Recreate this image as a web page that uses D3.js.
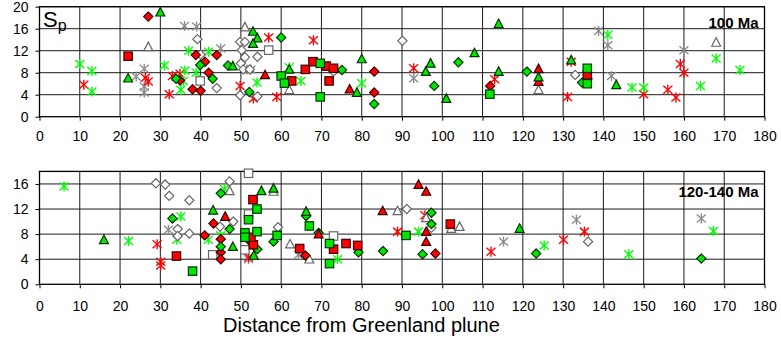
<!DOCTYPE html>
<html><head><meta charset="utf-8">
<script src="https://cdn.jsdelivr.net/npm/d3@7"></script>
<style>body{margin:0;background:#fff}svg{display:block}text{font-family:Arial,"Liberation Sans",sans-serif}</style>
</head><body><svg id="c" width="781" height="344"></svg>
<script>
// ---------- data (x = distance, y = Sp) ----------
const xTicks = [0,10,20,30,40,50,60,70,80,90,100,110,120,130,140,150,160,170,180];
const yTicksTop = [0,4,8,12,16,20];
const yTicksBottom = [0,4,8,12,16];
const panelLabels = ["100 Ma","120-140 Ma"];
const xTitle = "Distance from Greenland plune";

// top panel (100 Ma)
const top_redSquare = [[22,11],[62.6,6.5],[66,8.6],[67.9,10],[71.2,9.2],[73,8.8],[71.9,6.5],[136,7.6]];
const top_greenSquare = [[60,7.4],[60.8,6.1],[69.7,9.7],[69.7,3.6],[111.8,4.1],[136,8.8],[136,6.0]];
const top_whiteSquare = [[39.9,6.5],[56.9,12.1]];
const top_redTriangle = [[56,7.6],[77,5.0],[123.9,8.7],[123.9,6.4]];
const top_greenTriangle = [[22,7],[30,19],[48,9.2],[53,15.5],[54.1,14.3],[53,13.3],[62,8.6],[80,10.5],[78.8,4.4],[95.9,8.2],[97.1,9.7],[101,3.3],[108,11.6],[114,16.9],[114,8.2],[123.9,7.2],[132,10.3],[143.2,5.8]];
const top_whiteTriangle = [[27,12.7],[51,16.3],[62,4.9],[123.9,4.9],[168,13.5]];
const top_redDiamond = [[27,18.2],[38.8,11.2],[44,11.2],[41.1,10],[42,8],[34.9,6.6],[38,5],[40,4.7],[83.1,8.2],[83.1,4.4],[111.9,5.6]];
const top_greenDiamond = [[39.9,9.4],[46.8,9.3],[43,6.9],[33.9,6.9],[52.1,4.5],[60,14.4],[75.1,8.5],[83.1,2.3],[98,5.6],[104,9.9],[121,8.2],[134.7,6.2]];
const top_whiteDiamond = [[39.2,14.1],[40,11.3],[44,5.2],[49.8,13.6],[51,13.6],[50.2,12.1],[51,10.8],[54.1,10.9],[50,9.7],[50.6,8.6],[52.2,8.6],[49.8,3.9],[54.1,3.7],[62,6.5],[73,8.2],[90.1,13.8],[133,7.6],[136.1,6.9]];
const top_redAsterisk = [[11,5.8],[26.3,7.1],[27,6.4],[32.2,4.1],[33,7.4],[34.9,7.8],[49.8,5.6],[53.1,3.3],[56.9,14.4],[58.9,3.6],[68,13.9],[92.9,8.8],[113,6.8],[131.1,3.6],[132,10],[150,4.1],[156,4.9],[158,3.5],[159.1,9.6],[160,8.0]];
const top_greenAsterisk = [[10,9.6],[13,8.3],[13,4.6],[31,9.3],[37,12],[42,11.8],[36.1,8.4],[38.9,8],[35.7,6.5],[35.1,4.9],[54,6.2],[62,9],[64.9,6.5],[80,6.1],[141.1,14.9],[147.1,5.3],[150,5.3],[164.1,5.6],[168,10.6],[173.9,8.5]];
const top_grayAsterisk = [[24,7.3],[26,8.7],[26,5.5],[26,4.4],[36,16.5],[39,16.4],[45,12.4],[51.5,8.6],[52.5,8.6],[92.9,7.0],[138.8,15.6],[141.1,13],[142,7.4],[160,12.1]];

// bottom panel (120-140 Ma)
const bot_redSquare = [[34,4.5],[53,13.5],[53.1,6.3],[52.5,7.5],[64.6,5.7],[73,5.6],[76.1,6.5],[79,6.2],[102,9.6]];
const bot_greenSquare = [[38,2.1],[51,8.2],[51,7.5],[51.9,10.3],[54,12],[54,8.4],[59,7.8],[67,9.3],[72,6.5],[72,3.3],[91,7.8]];
const bot_whiteSquare = [[43,4.7],[51,5.5],[51.9,11.2],[51.9,17.7],[73,7.7]];
const bot_redTriangle = [[46.1,10.8],[69.3,8.0],[85.2,11.7],[94.1,15.9],[96,14.8],[96,8.4],[96,6.8]];
const bot_greenTriangle = [[16,7.1],[43.1,11.8],[48,6],[53.2,4.6],[55.1,14.9],[58.1,15.3],[66.2,11.6],[119.2,8.9]];
const bot_whiteTriangle = [[47.2,14.9],[58.1,14.8],[62.2,6.4],[67,4.0],[88.9,11.7],[96,10.6],[102.2,8.9],[104.3,9.2]];
const bot_redDiamond = [[41,7.8],[43.2,9.7],[45,7.2],[45,5.1],[45,4.0],[51.9,7.1],[66,4.6],[98.3,4.9]];
const bot_greenDiamond = [[33,10.5],[45,14.5],[47.2,8.8],[45,6.0],[54.1,5.6],[58.1,6.8],[66.2,10.9],[69.3,8.2],[79.2,5.1],[85.3,5.3],[95.1,4.8],[97.3,11.4],[97.3,9.6],[123.3,4.9],[164.3,4.1]];
const bot_whiteDiamond = [[28.9,16.1],[31.2,15.9],[32.2,14.1],[37.2,13.4],[34.3,8.8],[34.3,7.7],[37.2,8.1],[44.8,9.2],[48.1,10],[47.2,16.4],[59.2,9.1],[91.2,12],[97.3,9.0],[136.2,6.8]];
const bot_redAsterisk = [[29.2,6.4],[30.1,3.6],[30.1,3.0],[51.9,4.3],[88.9,8.4],[95.7,11],[112.1,5.2],[130.1,7.1],[135.3,8.4]];
const bot_greenAsterisk = [[6.1,15.6],[22.1,6.9],[34.1,7.1],[35.1,10.8],[41.9,7.1],[45,7.8],[45.9,15.2],[74,4],[94.1,8.4],[125.3,6.2],[146.3,4.8],[167.3,8.5]];
const bot_grayAsterisk = [[32,8.7],[51.9,4.0],[64.3,4.7],[115.2,6.8],[133.3,10.3],[164.3,10.5]];

// ---------- drawing ----------
const svg = d3.select("#c");
const x = d3.scaleLinear().domain([0,180]).range([39.5,764.5]);

const style = {
  red:   {fill:"#ff0000", stroke:"#3a0000"},
  green: {fill:"#00e600", stroke:"#003300"},
  white: {fill:"#ffffff", stroke:"#666666"}
};
const astColor = {red:"#ff0000", green:"#00ff00", gray:"#8c8c8c"};

function panel(cfg){
  const y = d3.scaleLinear().domain(cfg.ydom).range([cfg.y0, cfg.y1]);
  const g = svg.append("g");
  // grid
  g.append("g").selectAll("line.v").data(xTicks.slice(1,-1)).join("line")
    .attr("x1",d=>x(d)).attr("x2",d=>x(d)).attr("y1",cfg.y1).attr("y2",cfg.y0)
    .attr("stroke","#1a1a1a").attr("stroke-width",1);
  g.append("g").selectAll("line.h").data(cfg.yticks.filter(v=>v>0)).join("line")
    .attr("x1",x(0)).attr("x2",x(180)).attr("y1",d=>y(d)).attr("y2",d=>y(d))
    .attr("stroke","#1a1a1a").attr("stroke-width",1);
  // axes
  const xa = g.append("g").attr("transform",`translate(0,${cfg.y0})`)
    .call(d3.axisBottom(x).tickValues(xTicks).tickSize(4).tickPadding(cfg.xpad));
  const ya = g.append("g").attr("transform",`translate(${x(0)},0)`)
    .call(d3.axisLeft(y).tickValues(cfg.yticks).tickSize(4).tickPadding(7));
  [xa,ya].forEach(a=>{
    a.select(".domain").remove();
    a.selectAll("line").attr("stroke","#000");
    a.selectAll("text").attr("font-size",14).attr("fill","#000")
      .attr("font-family","Arial, 'Liberation Sans', sans-serif");
  });
  // frame
  g.append("rect").attr("x",x(0)).attr("y",cfg.y1).attr("width",x(180)-x(0)).attr("height",cfg.y0-cfg.y1)
    .attr("fill","none").attr("stroke","#000").attr("stroke-width",1.3);

  const m = g.append("g");
  const S = cfg.series;
  function squares(data,c){
    m.append("g").selectAll("rect").data(data).join("rect")
      .attr("x",d=>x(d[0])-4.2).attr("y",d=>y(d[1])-4.2).attr("width",8.4).attr("height",8.4)
      .attr("fill",style[c].fill).attr("stroke",style[c].stroke).attr("stroke-width",1.2);
  }
  function sym(data,c,type,size){
    m.append("g").selectAll("path").data(data).join("path")
      .attr("transform",d=>`translate(${x(d[0])},${y(d[1])})`)
      .attr("d",d3.symbol().type(type).size(size))
      .attr("fill",style[c].fill).attr("stroke",style[c].stroke).attr("stroke-width",1.2);
  }
  const diamond = {draw(ctx,size){const r=Math.sqrt(size)/2*1.15;ctx.moveTo(0,-r);ctx.lineTo(r,0);ctx.lineTo(0,r);ctx.lineTo(-r,0);ctx.closePath();}};
  const tri = {draw(ctx,size){const r=Math.sqrt(size)/2;ctx.moveTo(0,-r*1.05);ctx.lineTo(r,r*0.85);ctx.lineTo(-r,r*0.85);ctx.closePath();}};
  function asterisk(data,c){
    const gg = m.append("g").selectAll("g").data(data).join("g")
      .attr("transform",d=>`translate(${x(d[0])},${y(d[1])})`)
      .attr("stroke",astColor[c]).attr("stroke-width",1.4);
    gg.append("line").attr("x1",0).attr("x2",0).attr("y1",-5).attr("y2",5);
    gg.append("line").attr("x1",-4.5).attr("x2",4.5).attr("y1",-4).attr("y2",4);
    gg.append("line").attr("x1",-4.5).attr("x2",4.5).attr("y1",4).attr("y2",-4);
  }
  asterisk(S.grayAsterisk,"gray");
  asterisk(S.redAsterisk,"red");
  asterisk(S.greenAsterisk,"green");
  sym(S.whiteDiamond,"white",diamond,64);
  sym(S.whiteTriangle,"white",tri,80);
  squares(S.whiteSquare,"white");
  sym(S.redDiamond,"red",diamond,64);
  sym(S.greenDiamond,"green",diamond,64);
  sym(S.redTriangle,"red",tri,80);
  sym(S.greenTriangle,"green",tri,80);
  squares(S.redSquare,"red");
  squares(S.greenSquare,"green");

  g.append("text").attr("x",x(180)-6).attr("y",cfg.labelY).attr("text-anchor","end")
    .attr("font-size",15).attr("font-weight","bold").text(cfg.label);
  return y;
}

panel({ydom:[0,20], y0:116.7, y1:6.7, yticks:yTicksTop, xpad:10, label:panelLabels[0], labelY:28,
  series:{redSquare:top_redSquare,greenSquare:top_greenSquare,whiteSquare:top_whiteSquare,
    redTriangle:top_redTriangle,greenTriangle:top_greenTriangle,whiteTriangle:top_whiteTriangle,
    redDiamond:top_redDiamond,greenDiamond:top_greenDiamond,whiteDiamond:top_whiteDiamond,
    redAsterisk:top_redAsterisk,greenAsterisk:top_greenAsterisk,grayAsterisk:top_grayAsterisk}});
panel({ydom:[0,18], y0:284.3, y1:171.4, yticks:yTicksBottom, xpad:13, label:panelLabels[1], labelY:197,
  series:{redSquare:bot_redSquare,greenSquare:bot_greenSquare,whiteSquare:bot_whiteSquare,
    redTriangle:bot_redTriangle,greenTriangle:bot_greenTriangle,whiteTriangle:bot_whiteTriangle,
    redDiamond:bot_redDiamond,greenDiamond:bot_greenDiamond,whiteDiamond:bot_whiteDiamond,
    redAsterisk:bot_redAsterisk,greenAsterisk:bot_greenAsterisk,grayAsterisk:bot_grayAsterisk}});

// Sp label
const sp = svg.append("text").attr("x",43).attr("y",27).attr("font-size",22);
sp.append("tspan").text("S");
sp.append("tspan").attr("font-size",16).attr("dy",4).text("p");

svg.append("text").attr("x",223).attr("y",332).attr("font-size",20).text(xTitle);
</script></body></html>
